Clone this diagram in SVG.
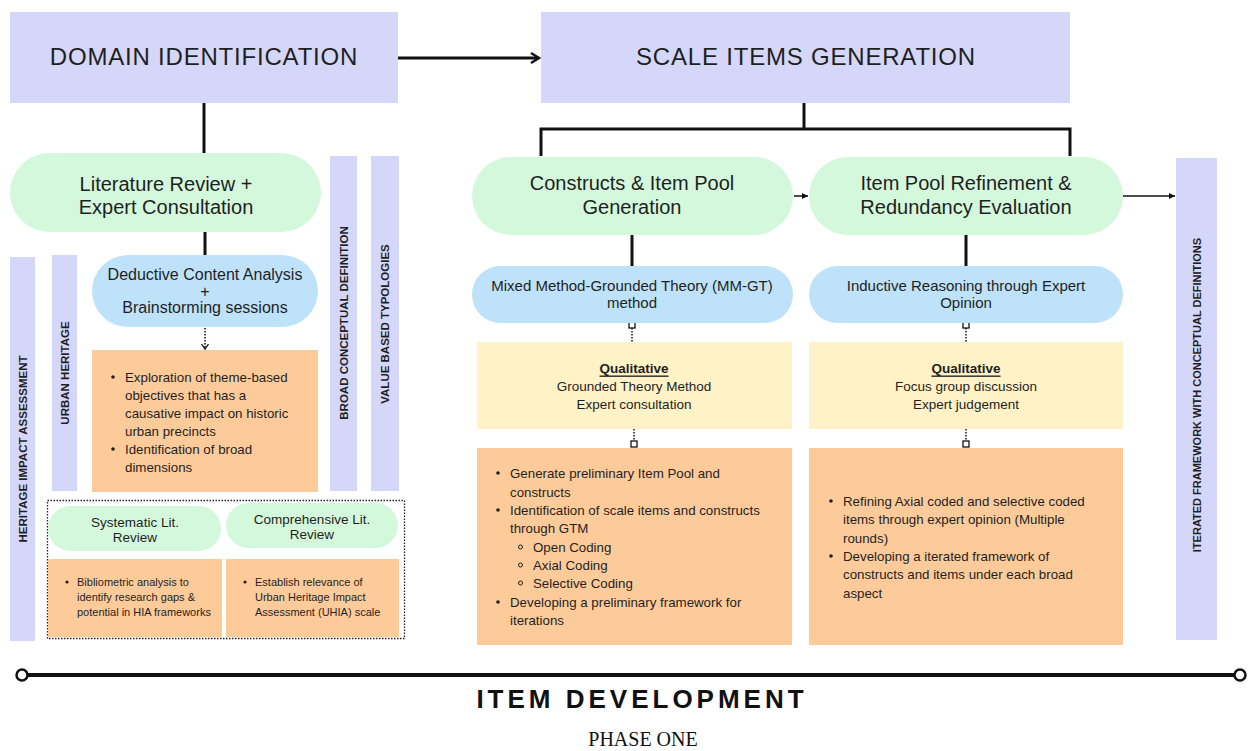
<svg xmlns="http://www.w3.org/2000/svg" width="1248" height="751" viewBox="0 0 1248 751">
<style>
.bg{fill:#ffffff}
.lav{fill:#D5D7FA}
.grn{fill:#D4F8DB}
.blu{fill:#BEE2FA}
.yel{fill:#FEF2C6}
.org{fill:#FDCB9A}
text{font-family:"Liberation Sans",Arial,sans-serif;fill:#1f1f1f}
.hdr{font-size:24px;letter-spacing:0.8px;text-anchor:middle;dominant-baseline:central}
.pill{font-size:20px;text-anchor:middle;dominant-baseline:central}
.mid{font-size:15px;text-anchor:middle;dominant-baseline:central}
.ded{font-size:16px;text-anchor:middle;dominant-baseline:central}
.yt{font-size:13.5px;text-anchor:middle;dominant-baseline:central}
.bt{font-size:13.3px;dominant-baseline:central}
.st{font-size:11px;dominant-baseline:central}
.sp{font-size:13.5px;text-anchor:middle;dominant-baseline:central}
.vt{font-size:11.5px;font-weight:bold;text-anchor:middle;dominant-baseline:central}
.conn{stroke:#111;fill:none}
.thick{stroke-width:3}
.thin{stroke-width:1.5}
.dot{stroke-width:1.5;stroke-dasharray:1.5 1.5}
.sq{fill:#fff;stroke:#111;stroke-width:1.3}
.bul{fill:#1f1f1f}
.sub{fill:none;stroke:#1f1f1f;stroke-width:1}
</style>
<defs>
<marker id="arrBig" markerUnits="userSpaceOnUse" markerWidth="14" markerHeight="14" refX="10" refY="7" orient="auto">
<path d="M2,2 L10,7 L2,12" fill="none" stroke="#111" stroke-width="2.5"/>
</marker>
<marker id="arrSm" markerUnits="userSpaceOnUse" markerWidth="10" markerHeight="10" refX="8" refY="5" orient="auto">
<path d="M2,2 L8,5 L2,8 Z" fill="#111"/>
</marker>
<marker id="arrOpen" markerUnits="userSpaceOnUse" markerWidth="10" markerHeight="10" refX="8" refY="5" orient="auto">
<path d="M3,1.5 L8,5 L3,8.5" fill="none" stroke="#111" stroke-width="1.3"/>
</marker>
</defs>
<rect class="bg" x="0" y="0" width="1248" height="751"/>

<g id="connectors">
<line class="conn thick" x1="398" y1="58" x2="539" y2="58" marker-end="url(#arrBig)"/>
<line class="conn thick" x1="204" y1="103" x2="204" y2="153"/>
<line class="conn thick" x1="205" y1="232" x2="205" y2="255"/>
<line class="conn dot" x1="205" y1="328" x2="205" y2="349" marker-end="url(#arrOpen)"/>
<polyline class="conn thick" points="804,103 804,129"/>
<polyline class="conn thick" points="541,156 541,129 1070,129 1070,156"/>
<line class="conn thin" x1="794" y1="196" x2="808" y2="196" marker-end="url(#arrSm)"/>
<line class="conn thin" x1="1123" y1="196" x2="1175" y2="196" marker-end="url(#arrSm)"/>
<line class="conn thick" x1="632" y1="235" x2="632" y2="266"/>
<line class="conn thick" x1="966" y1="235" x2="966" y2="266"/>
<line class="conn dot" x1="632" y1="328" x2="632" y2="342"/>
<rect class="sq" x="629" y="322" width="6" height="6"/>
<line class="conn dot" x1="634" y1="429" x2="634" y2="441"/>
<rect class="sq" x="631" y="441" width="6" height="6"/>
<line class="conn dot" x1="966" y1="328" x2="966" y2="342"/>
<rect class="sq" x="963" y="322" width="6" height="6"/>
<line class="conn dot" x1="966" y1="429" x2="966" y2="441"/>
<rect class="sq" x="963" y="441" width="6" height="6"/>
</g>

<g id="domain-identification">
<rect class="lav" x="10" y="12" width="388" height="91"/>
<text class="hdr" x="204" y="56">DOMAIN IDENTIFICATION</text>
</g>

<g id="scale-items-generation">
<rect class="lav" x="541" y="12" width="529" height="91"/>
<text class="hdr" x="806" y="56">SCALE ITEMS GENERATION</text>
</g>

<g id="literature-review">
<rect class="grn" x="10" y="153" width="311" height="79" rx="39.5"/>
<text class="pill" x="166" y="184">Literature Review +</text>
<text class="pill" x="166" y="207">Expert Consultation</text>
</g>

<g id="bar-broad-conceptual">
<rect class="lav" x="330" y="156" width="27" height="335"/>
<text class="vt" transform="translate(344,323) rotate(-90)">BROAD CONCEPTUAL DEFINITION</text>
</g>

<g id="bar-value-based">
<rect class="lav" x="371" y="156" width="28" height="335"/>
<text class="vt" transform="translate(385,324) rotate(-90)">VALUE BASED TYPOLOGIES</text>
</g>

<g id="bar-urban-heritage">
<rect class="lav" x="52" y="255" width="25" height="236"/>
<text class="vt" transform="translate(64.5,373) rotate(-90)">URBAN HERITAGE</text>
</g>

<g id="bar-heritage-impact">
<rect class="lav" x="10" y="257" width="25" height="384"/>
<text class="vt" transform="translate(22.5,449) rotate(-90)">HERITAGE IMPACT ASSESSMENT</text>
</g>

<g id="deductive-content">
<rect class="blu" x="92" y="255" width="226" height="72" rx="36"/>
<text class="ded" x="205" y="274">Deductive Content Analysis</text>
<text class="ded" x="205" y="291">+</text>
<text class="ded" x="205" y="307">Brainstorming sessions</text>
</g>

<g id="exploration-box">
<rect class="org" x="92" y="350" width="226" height="142"/>
<circle class="bul" cx="113" cy="377" r="1.8"/>
<text class="bt" x="125" y="377">Exploration of theme-based</text>
<text class="bt" x="125" y="395">objectives that has a</text>
<text class="bt" x="125" y="413">causative impact on historic</text>
<text class="bt" x="125" y="431">urban precincts</text>
<circle class="bul" cx="113" cy="449" r="1.8"/>
<text class="bt" x="125" y="449">Identification of broad</text>
<text class="bt" x="125" y="467">dimensions</text>
</g>

<g id="literature-group">
<rect x="47.5" y="500.5" width="357" height="138" fill="none" stroke="#222" stroke-width="1.3" stroke-dasharray="1.5 1.5"/>
<rect class="grn" x="48" y="506" width="173" height="45" rx="22.5"/>
<text class="sp" x="135" y="522">Systematic Lit.</text>
<text class="sp" x="135" y="537">Review</text>
<rect class="grn" x="226" y="503" width="172" height="45" rx="22.5"/>
<text class="sp" x="312" y="519">Comprehensive Lit.</text>
<text class="sp" x="312" y="534">Review</text>
<rect class="org" x="48" y="559" width="174" height="78"/>
<circle class="bul" cx="67" cy="582" r="1.6"/>
<text class="st" x="77" y="582">Bibliometric analysis to</text>
<text class="st" x="77" y="597">identify research gaps &amp;</text>
<text class="st" x="77" y="612">potential in HIA frameworks</text>
<rect class="org" x="226" y="559" width="173" height="78"/>
<circle class="bul" cx="245" cy="582" r="1.6"/>
<text class="st" x="255" y="582">Establish relevance of</text>
<text class="st" x="255" y="597">Urban Heritage Impact</text>
<text class="st" x="255" y="612">Assessment (UHIA) scale</text>
</g>

<g id="constructs-pool">
<rect class="grn" x="472" y="157" width="321" height="78" rx="39"/>
<text class="pill" x="632" y="183">Constructs &amp; Item Pool</text>
<text class="pill" x="632" y="207">Generation</text>
</g>

<g id="item-pool-refinement">
<rect class="grn" x="809" y="157" width="314" height="78" rx="39"/>
<text class="pill" x="966" y="183">Item Pool Refinement &amp;</text>
<text class="pill" x="966" y="207">Redundancy Evaluation</text>
</g>

<g id="iterated-framework">
<rect class="lav" x="1176" y="158" width="41" height="482"/>
<text class="vt" style="font-size:11px" transform="translate(1197,395) rotate(-90)">ITERATED FRAMEWORK WITH CONCEPTUAL DEFINITIONS</text>
</g>

<g id="mmgt-method">
<rect class="blu" x="472" y="266" width="321" height="57" rx="28.5"/>
<text class="mid" x="632" y="285">Mixed Method-Grounded Theory (MM-GT)</text>
<text class="mid" x="632" y="302">method</text>
</g>

<g id="inductive-reasoning">
<rect class="blu" x="809" y="266" width="314" height="57" rx="28.5"/>
<text class="mid" x="966" y="285">Inductive Reasoning through Expert</text>
<text class="mid" x="966" y="302">Opinion</text>
</g>

<g id="qualitative-left">
<rect class="yel" x="477" y="342" width="315" height="87"/>
<text class="yt" x="634" y="368" font-weight="bold" text-decoration="underline">Qualitative</text>
<text class="yt" x="634" y="386">Grounded Theory Method</text>
<text class="yt" x="634" y="404">Expert consultation</text>
</g>

<g id="qualitative-right">
<rect class="yel" x="809" y="342" width="314" height="87"/>
<text class="yt" x="966" y="368" font-weight="bold" text-decoration="underline">Qualitative</text>
<text class="yt" x="966" y="386">Focus group discussion</text>
<text class="yt" x="966" y="404">Expert judgement</text>
</g>

<g id="generation-steps">
<rect class="org" x="477" y="448" width="315" height="197"/>
<circle class="bul" cx="498" cy="473" r="1.8"/>
<text class="bt" x="510" y="473">Generate preliminary Item Pool and</text>
<text class="bt" x="510" y="492">constructs</text>
<circle class="bul" cx="498" cy="510" r="1.8"/>
<text class="bt" x="510" y="510">Identification of scale items and  constructs</text>
<text class="bt" x="510" y="528">through GTM</text>
<circle class="sub" cx="520.5" cy="547" r="2"/>
<text class="bt" x="533" y="547">Open Coding</text>
<circle class="sub" cx="520.5" cy="565" r="2"/>
<text class="bt" x="533" y="565">Axial Coding</text>
<circle class="sub" cx="520.5" cy="583" r="2"/>
<text class="bt" x="533" y="583">Selective Coding</text>
<circle class="bul" cx="498" cy="602" r="1.8"/>
<text class="bt" x="510" y="602">Developing a preliminary framework for</text>
<text class="bt" x="510" y="620">iterations</text>
</g>

<g id="refinement-steps">
<rect class="org" x="809" y="448" width="314" height="197"/>
<circle class="bul" cx="831" cy="501" r="1.8"/>
<text class="bt" x="843" y="501">Refining Axial coded and selective coded</text>
<text class="bt" x="843" y="519">items through expert opinion (Multiple</text>
<text class="bt" x="843" y="538">rounds)</text>
<circle class="bul" cx="831" cy="556" r="1.8"/>
<text class="bt" x="843" y="556">Developing a iterated framework of</text>
<text class="bt" x="843" y="574">constructs and items under each broad</text>
<text class="bt" x="843" y="593">aspect</text>
</g>

<g id="timeline">
<line x1="28" y1="675" x2="1234" y2="675" stroke="#111" stroke-width="4"/>
<circle cx="22" cy="675" r="5.5" fill="#fff" stroke="#111" stroke-width="2.5"/>
<circle cx="1240" cy="675" r="5.5" fill="#fff" stroke="#111" stroke-width="2.5"/>
<text x="642" y="699" text-anchor="middle" dominant-baseline="central" style="font-size:26px;font-weight:bold;letter-spacing:4px;fill:#111">ITEM DEVELOPMENT</text>
<text x="643" y="739" text-anchor="middle" dominant-baseline="central" style="font-family:'Liberation Serif','Times New Roman',serif;font-size:20px;fill:#111">PHASE ONE</text>
</g>
</svg>
